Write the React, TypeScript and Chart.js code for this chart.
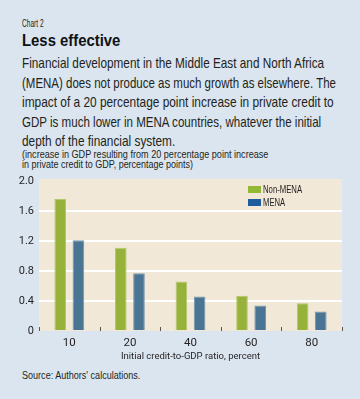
import React, { useEffect, useLayoutEffect, useRef } from "react";
import { Chart, registerables } from "chart.js";

Chart.register(...registerables);

const categories = ["10", "20", "40", "60", "80"];
const nonMena = [1.76, 1.11, 0.66, 0.47, 0.37];
const mena = [1.21, 0.77, 0.46, 0.34, 0.26];
const yTicks = [0, 0.4, 0.8, 1.2, 1.6, 2.0];
const seriesNames = ["Non-MENA", "MENA"];

const SANS = "'Liberation Sans', Arial, sans-serif";
const CANVAS_FONT = "Roboto, 'Liberation Sans', sans-serif";
const TEXT = "#231f20";
const GREEN = "#97b23a";
const BLUE = "#4a7494";

const plotBg = {
  id: "plotBg",
  beforeDraw(chart: any) {
    const { ctx, chartArea } = chart;
    ctx.save();
    ctx.fillStyle = "#f1e8d7";
    ctx.fillRect(chartArea.left, chartArea.top - 2, chartArea.right - chartArea.left, chartArea.bottom - chartArea.top + 2);
    ctx.restore();
  },
};

const boundaryTicks = {
  id: "boundaryTicks",
  afterDatasetsDraw(chart: any) {
    const { ctx } = chart;
    const xs = chart.scales.x;
    const bottom = chart.chartArea.bottom;
    ctx.save();
    ctx.strokeStyle = "#555555";
    ctx.lineWidth = 1;
    for (let i = 0; i <= categories.length; i++) {
      const x = Math.round(xs.getPixelForValue(i - 0.5)) + 0.5;
      ctx.beginPath();
      ctx.moveTo(x, bottom - 4);
      ctx.lineTo(x, bottom);
      ctx.stroke();
    }
    ctx.restore();
  },
};

function Line(props: { left: number; top: number; width: number; text: string; style: React.CSSProperties }) {
  const ref = useRef<HTMLDivElement>(null);
  useLayoutEffect(() => {
    const el = ref.current;
    if (!el) return;
    const w = el.offsetWidth;
    if (w > 0) el.style.transform = `scaleX(${props.width / w})`;
  });
  return (
    <div
      ref={ref}
      style={{
        position: "absolute",
        left: props.left,
        top: props.top,
        whiteSpace: "nowrap",
        display: "inline-block",
        transformOrigin: "0 0",
        ...props.style,
      }}
    >
      {props.text}
    </div>
  );
}

export default function App() {
  const ref = useRef<HTMLCanvasElement>(null);

  useEffect(() => {
    if (!ref.current) return;
    const chart = new Chart(ref.current, {
      type: "bar",
      data: {
        labels: categories,
        datasets: [
          {
            label: seriesNames[0],
            data: nonMena,
            backgroundColor: GREEN,
            borderColor: "#b3c76e",
            borderWidth: 1,
            barPercentage: 0.64,
            categoryPercentage: 0.6,
          },
          {
            label: seriesNames[1],
            data: mena,
            backgroundColor: BLUE,
            borderColor: "#7894ab",
            borderWidth: 1,
            barPercentage: 0.64,
            categoryPercentage: 0.6,
          },
        ],
      },
      options: {
        animation: false,
        responsive: true,
        maintainAspectRatio: false,
        layout: { padding: { top: 13, right: 18, left: 0, bottom: 0 } },
        plugins: {
          legend: { display: false },
          tooltip: { enabled: false },
        },
        scales: {
          x: {
            grid: { display: false, drawTicks: false },
            border: { display: false },
            ticks: { color: TEXT, font: { family: CANVAS_FONT, size: 11.5 }, padding: 5 },
            title: {
              display: true,
              text: "Initial credit-to-GDP ratio, percent",
              color: TEXT,
              font: { family: CANVAS_FONT, size: 9.5 },
              padding: { top: 2, bottom: 4 },
            },
            afterFit(scale: any) {
              scale.height = 35;
            },
          },
          y: {
            min: 0,
            max: 2,
            afterBuildTicks(scale: any) {
              scale.ticks = yTicks.map((v) => ({ value: v }));
            },
            grid: {
              drawTicks: false,
              color: (c: any) => (c.tick && (c.tick.value === 0 || c.tick.value === 2) ? "rgba(0,0,0,0)" : "#ffffff"),
              lineWidth: 2,
            },
            border: { display: false },
            ticks: {
              color: TEXT,
              font: { family: CANVAS_FONT, size: 11 },
              padding: 5,
              callback: (v: any) => (Number(v) === 0 ? "0" : Number(v).toFixed(1)),
            },
            afterFit(scale: any) {
              scale.width = 39;
            },
          },
        },
      },
      plugins: [plotBg, boundaryTicks],
    } as any);
    return () => chart.destroy();
  }, []);

  const body: React.CSSProperties = { fontFamily: SANS, fontSize: 15, lineHeight: "19.5px", color: TEXT };
  const small: React.CSSProperties = { fontFamily: SANS, fontSize: 10.5, lineHeight: "10px", color: TEXT };
  const legendText: React.CSSProperties = { fontFamily: SANS, fontSize: 11.5, lineHeight: "13px", color: TEXT };

  return (
    <div style={{ position: "fixed", left: 0, top: 0, width: 360, height: 399, background: "#dae5ef", overflow: "hidden" }}>
      <Line left={22} top={16} width={21.5} text="Chart 2" style={{ fontFamily: SANS, fontSize: 11, lineHeight: "14px", color: TEXT }} />
      <Line left={22} top={31} width={98} text="Less effective" style={{ fontFamily: SANS, fontWeight: 700, fontSize: 17, lineHeight: "20px", color: "#111" }} />
      <Line left={22} top={53} width={302} text="Financial development in the Middle East and North Africa" style={body} />
      <Line left={22} top={72.5} width={314} text="(MENA) does not produce as much growth as elsewhere. The" style={body} />
      <Line left={22} top={92} width={312} text="impact of a 20 percentage point increase in private credit to" style={body} />
      <Line left={22} top={111.5} width={299} text="GDP is much lower in MENA countries, whatever the initial" style={body} />
      <Line left={22} top={131} width={153} text="depth of the financial system." style={body} />
      <Line left={22} top={149} width={246.7} text="(increase in GDP resulting from 20 percentage point increase" style={small} />
      <Line left={22} top={158.5} width={171} text="in private credit to GDP, percentage points)" style={small} />
      <div style={{ position: "absolute", left: 0, top: 168, width: 360, height: 198 }}>
        <canvas ref={ref} />
      </div>
      <div style={{ position: "absolute", left: 248, top: 186, width: 13, height: 7, background: "#93b833" }} />
      <div style={{ position: "absolute", left: 248, top: 199, width: 13, height: 7, background: "#1f5c9c" }} />
      <Line left={263} top={183} width={39} text={seriesNames[0]} style={legendText} />
      <Line left={263} top={196} width={22} text={seriesNames[1]} style={legendText} />
      <Line left={22} top={369.5} width={118} text="Source: Authors' calculations." style={small} />
    </div>
  );
}
